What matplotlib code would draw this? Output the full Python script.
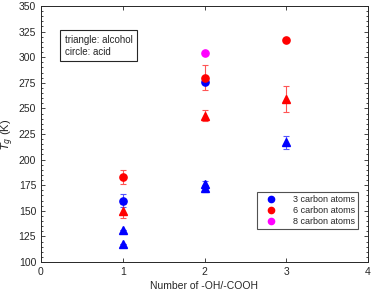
import matplotlib
matplotlib.use("Agg")
import matplotlib.pyplot as plt
from matplotlib.ticker import MultipleLocator

plt.rcParams['font.family'] = ['Liberation Sans', 'DejaVu Sans']

# alcohols (triangles)
alc3_x = [1, 1, 2, 2, 3]
alc3_y = [131, 118, 176, 172, 217]
alc3_err = [0, 0, 3.5, 3.5, 6.5]
alc6_x = [1, 2, 3]
alc6_y = [150, 243, 259]
alc6_err = [7, 5, 13]
# acids (circles)
acid3_x = [1, 2]
acid3_y = [160, 276]
acid3_err = [6, 0]
acid6_x = [1, 2, 3]
acid6_y = [183, 280, 317]
acid6_err = [7, 12, 0]
acid8_x = [2]
acid8_y = [304]

xticks = [0, 1, 2, 3, 4]
yticks = [100, 125, 150, 175, 200, 225, 250, 275, 300, 325, 350]

W, H = 372, 293
fig = plt.figure(figsize=(W/100, H/100), dpi=100)
ax = fig.add_axes([41/W, 1-262/H, 327/W, 256/H])

grey = '#262626'
ekw = dict(capsize=2.5, elinewidth=0.8, capthick=0.8, linestyle='none')

ax.errorbar(alc3_x, alc3_y, yerr=alc3_err, fmt='^', color='blue', ecolor='#5555ff', markersize=5.8, **ekw)
ax.errorbar(alc6_x, alc6_y, yerr=alc6_err, fmt='^', color='red', ecolor='#ff5555', markersize=5.8, **ekw)
ax.errorbar(acid3_x, acid3_y, yerr=acid3_err, fmt='o', color='blue', ecolor='#5555ff', markersize=5.2, **ekw)
ax.errorbar(acid6_x, acid6_y, yerr=acid6_err, fmt='o', color='red', ecolor='#ff5555', markersize=5.2, **ekw)
ax.plot(acid8_x, acid8_y, 'o', color='magenta', markersize=5.2)

h3 = ax.plot([], [], 'o', color='blue', markersize=4.5)[0]
h6 = ax.plot([], [], 'o', color='red', markersize=4.5)[0]
h8 = ax.plot([], [], 'o', color='magenta', markersize=4.5)[0]

ax.set_xlim(0, 4)
ax.set_ylim(100, 350)
ax.set_xticks(xticks)
ax.set_yticks(yticks)
ax.yaxis.set_minor_locator(MultipleLocator(5))
ax.tick_params(which='both', direction='in', top=True, right=True, colors=grey,
               labelsize=7.5, width=0.6)
ax.tick_params(which='major', length=3)
ax.tick_params(which='minor', length=1.5)
for s in ax.spines.values():
    s.set_color(grey)
    s.set_linewidth(0.7)

ax.set_xlabel('Number of -OH/-COOH', fontsize=7.5, color=grey, labelpad=3)
ax.set_ylabel('$T_g$ (K)', fontsize=8, color=grey, labelpad=2)

leg = ax.legend([h3, h6, h8], ['3 carbon atoms', '6 carbon atoms', '8 carbon atoms'],
                loc='lower left', bbox_to_anchor=(0.66, 0.129, 0.31, 0.156),
                mode='expand', fontsize=6.5, frameon=True, fancybox=False,
                handletextpad=1.2, borderpad=0.3, labelspacing=0.25, handlelength=2.5,
                borderaxespad=0)
leg.get_frame().set_edgecolor(grey)
leg.get_frame().set_linewidth(0.8)
for t in leg.get_texts():
    t.set_color(grey)

ax.text(0.073, 0.888, 'triangle: alcohol\ncircle: acid', transform=ax.transAxes,
        fontsize=7, color=grey, va='top', ha='left', linespacing=1.3,
        bbox=dict(boxstyle='square,pad=0.45', fc='white', ec=grey, lw=0.8))

fig.savefig('out.png', dpi=100)
